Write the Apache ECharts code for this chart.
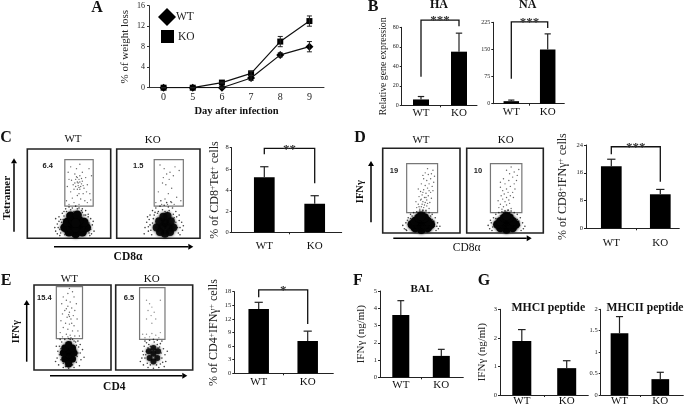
<!DOCTYPE html>
<html><head><meta charset="utf-8">
<style>html,body{margin:0;padding:0;background:#fff}#c{width:685px;height:407px}</style>
<script src="https://cdn.jsdelivr.net/npm/echarts@6/dist/echarts.min.js"></script>
</head><body><div id="c"></div>
<script>
// ---------- data ----------
const days = ['0','5','6','7','8','9'];
const wtLoss = [0,0,0,1.9,6.4,8];
const wtLossErr = [0,0,0.1,0.5,0.4,1];
const koLoss = [0,0,1,2.8,9,13];
const koLossErr = [0,0,0.1,0.4,1,1];
const groups = ['WT','KO'];
const haValues=[6,55], haTops=[9,74];
const naValues=[7,150], naTops=[10,193];
const cValues=[5.2,2.7], cTops=[6.2,3.46];
const dValues=[17.9,9.8], dTops=[19.9,11.2];
const eValues=[14.2,7.13], eTops=[15.66,9.3];
const fValues=[3.61,1.24], fTops=[4.44,1.62];
const g1Values=[1.89,0.94], g1Tops=[2.29,1.2];
const g2Values=[1.44,0.37], g2Tops=[1.83,0.53];
const haBracket=[0,29.3,87.4,1,81], naBracket=[0,69,226,1,209];
const cBracket=[0,7.37,7.94,1,4.63], dBracket=[0,21.3,23.5,1,13.4], eBracket=[0,16.8,18.4,1,10.9];
// flow plots (percent of the plot box)
const c1Core=[[58,5],[50,7],[66,7],[45,12],[71,12],[52,12],[64,12],[58,12],[48,18],[68,18],[55,20],[62,20],[52,25],[60,26],[58,17]];
const c1Gate=[[61,62],[58,66],[64,58],[55,60],[66,64],[60,55],[63,70],[52,52],[68,56],[57,72],[62,50],[70,68],[50,66],[66,74],[54,45],[72,60],[59,78],[48,58],[75,50],[64,44],[56,40],[69,42],[47,42],[74,78],[52,80],[63,83],[77,70],[49,74],[60,48],[67,50],[58,58],[62,66],[65,61],[56,55],[60,63],[63,55],[59,69],[53,65],[67,59],[71,52],[50,38],[62,38],[72,40],[76,43],[61,59],[63,63],[57,62],[60,68],[65,67],[62,57]];
const c1Ring=[[34,8],[36,16],[38,24],[40,6],[42,28],[44,30],[37,12],[46,33],[50,35],[54,34],[58,36],[62,34],[66,33],[70,31],[73,27],[76,22],[78,15],[80,8],[77,5],[34,22],[39,3],[75,12],[72,20],[43,21],[41,13],[74,6],[48,27],[68,26],[56,30],[62,29],[38,19],[79,19],[33,12],[60,33],[45,4],[71,15],[41,18],[47,30],[66,29],[74,17],[36,5],[39,10],[40,21],[44,25],[76,10],[75,3],[73,24],[70,26],[65,31],[52,32]];
const c2Core=[[58,5],[52,7],[64,7],[48,12],[68,12],[55,13],[62,13],[58,18],[51,19],[65,19],[56,24],[61,25]];
const c2Gate=[[60,72],[57,78],[63,66],[55,62],[68,70],[59,60],[70,80],[52,82],[66,56],[75,76],[62,50],[50,52],[72,46],[58,44],[66,40],[47,40],[54,38],[77,42],[61,38],[69,38],[64,74],[56,68]];
const c2Ring=[[38,8],[36,18],[40,26],[43,31],[47,34],[52,36],[57,37],[62,35],[67,34],[71,30],[75,26],[78,18],[79,9],[76,4],[34,12],[42,4],[37,24],[73,12],[45,26],[68,27],[55,32],[63,31],[40,15],[75,20],[50,30],[33,5],[80,14],[60,40],[53,42],[65,41],[44,22],[72,24],[49,28],[61,29],[38,13],[76,12],[41,9],[43,17],[74,6],[71,18],[46,29],[58,30],[69,23],[39,21]];
const d1Core=[[50,4],[42,6],[58,6],[38,10],[62,10],[46,10],[54,10],[50,14],[42,14],[58,14],[47,18],[54,18],[50,20]];
const d1Gate=[[52,26],[48,28],[56,27],[44,30],[60,29],[50,31],[54,33],[46,34],[58,35],[52,37],[49,39],[57,39],[61,36],[43,37],[54,42],[47,43],[59,44],[51,45],[63,41],[56,47],[49,49],[62,48],[53,51],[58,53],[46,52],[65,50],[55,56],[60,58],[50,58],[64,55],[57,62],[53,64],[62,64],[66,60],[59,69],[55,71],[63,70],[58,76],[65,74],[52,68],[67,67],[50,40],[55,36],[53,30],[47,31],[57,32],[51,34],[56,42],[52,48],[60,50]];
const d1Ring=[[28,5],[30,12],[33,18],[36,22],[40,24],[44,25],[48,26],[52,27],[56,26],[60,24],[64,22],[68,18],[71,12],[72,5],[26,9],[31,3],[69,3],[36,17],[64,16],[42,20],[58,21],[50,22],[74,8],[34,8],[67,8],[30,4],[32,15],[38,20],[62,20],[66,14],[70,8],[46,24],[54,24]];
const d2Core=[[52,4],[44,6],[60,6],[40,10],[64,10],[48,10],[56,10],[52,14],[44,14],[60,14],[49,18],[56,18],[52,20]];
const d2Gate=[[50,26],[46,28],[54,27],[42,30],[58,29],[48,31],[52,33],[44,34],[56,35],[50,37],[47,40],[55,39],[41,38],[52,42],[45,44],[57,44],[49,46],[61,42],[54,48],[47,50],[60,48],[52,52],[63,52],[44,54],[57,55],[50,58],[62,58],[65,62],[55,62],[48,64],[60,66],[66,68],[56,70],[62,72],[52,74],[58,78],[44,60],[68,75]];
const d2Ring=[[30,5],[32,12],[35,18],[38,22],[42,24],[46,25],[50,26],[54,27],[58,26],[62,24],[66,22],[70,18],[73,12],[74,5],[28,9],[33,3],[71,3],[38,17],[66,16],[44,20],[60,21],[52,22],[76,8],[31,15],[34,7],[69,9],[68,14],[48,24],[56,24]];
const e1Core=[[45,10],[40,13],[50,13],[45,18],[38,20],[52,20],[45,24],[40,26],[50,26],[45,30],[45,7]];
const e1Gate=[[46,96],[44,90],[50,92],[38,86],[52,86],[42,82],[47,80],[36,78],[55,78],[44,75],[49,73],[40,70],[53,70],[46,68],[37,66],[51,64],[43,62],[48,60],[35,58],[56,60],[41,55],[46,54],[52,52],[38,50],[44,48],[50,46],[34,44],[57,46],[42,42],[47,41],[53,40],[37,39],[44,39],[59,40],[48,38],[46,63],[45,65],[42,72],[49,55]];
const e1Ring=[[32,6],[30,14],[31,22],[33,28],[36,33],[40,36],[45,37],[50,36],[54,33],[58,27],[60,20],[61,12],[59,5],[57,34],[34,36],[63,24],[28,10],[38,3],[52,3],[45,2],[60,30],[29,28],[65,15],[55,9],[35,12],[38,8],[56,16],[36,20],[54,24],[42,32],[48,33],[33,18],[35,25],[57,20],[55,29],[41,4],[50,6],[38,27],[52,34],[47,36]];
const e2Core=[[49,10],[44,14],[54,14],[49,19],[43,22],[55,22],[49,26]];
const e2Gate=[[40,82],[44,78],[47,74],[42,70],[50,68],[46,64],[40,60],[52,60],[47,55],[58,82],[35,42],[40,42],[47,43],[52,41],[58,44],[44,39],[56,38],[38,38]];
const e2Ring=[[36,6],[34,14],[35,22],[37,28],[40,32],[44,35],[49,36],[54,35],[58,31],[62,25],[64,18],[65,10],[63,4],[60,34],[38,34],[67,22],[32,10],[42,3],[56,3],[49,2],[45,28],[55,26],[38,14],[60,14],[41,8],[58,7],[40,22],[59,20],[43,30],[54,30],[45,6],[53,6],[39,18],[61,9],[36,18],[57,27],[42,26],[50,33]];

// ---------- layout & helpers ----------
const serif='"Liberation Serif","Times New Roman",serif', sans='"Liberation Sans",Arial,sans-serif';
const grid=[],xAxis=[],yAxis=[],series=[],graphic=[];
const rich={s:{fontSize:7.5,verticalAlign:'top',lineHeight:8,padding:[0,0,5,0],fontFamily:serif,color:'#222'}};
function text(x,y,s,size,opt={}){
  graphic.push({type:'text',x,y,rotation:opt.rot?Math.PI/2:0,z:50,silent:true,
    style:{text:s,fontSize:size,fontFamily:opt.font||serif,fontWeight:opt.bold?'bold':'normal',fill:opt.color||'#111',align:'center',verticalAlign:'middle'}});
}
function arrow(x1,y1,x2,y2,w){
  const dx=Math.sign(x2-x1),dy=Math.sign(y2-y1),h=5,a=3;
  graphic.push({type:'line',shape:{x1,y1,x2:x2-dx*h,y2:y2-dy*h},style:{stroke:'#000',lineWidth:w||1.5},silent:true});
  graphic.push({type:'polygon',shape:{points:[[x2,y2],[x2-dx*h-dy*a,y2-dy*h-dx*a],[x2-dx*h+dy*a,y2-dy*h+dx*a]]},style:{fill:'#000'},silent:true});
}
function errSeries(i,data,cap,width,bothWays){
  series.push({type:'custom',xAxisIndex:i,yAxisIndex:i,z:6,clip:false,silent:true,data,
    encode:{x:0,y:[1,2]},
    renderItem(p,api){
      const a=api.coord([api.value(0),api.value(1)]),b=api.coord([api.value(0),api.value(2)]);
      const st={stroke:'#222',lineWidth:width,fill:null};
      const ch=[{type:'line',shape:{x1:a[0],y1:a[1],x2:b[0],y2:b[1]},style:st},
        {type:'line',shape:{x1:b[0]-cap,y1:b[1],x2:b[0]+cap,y2:b[1]},style:st}];
      if(bothWays)ch.push({type:'line',shape:{x1:a[0]-cap,y1:a[1],x2:a[0]+cap,y2:a[1]},style:st});
      return {type:'group',children:ch};
    }});
}
function barPanel(o){
  const i=grid.length, w=o.right-o.left, span=o.x1-o.x0;
  grid.push({left:o.left,top:o.top,width:w,height:o.bottom-o.top});
  xAxis.push({gridIndex:i,type:'value',min:-(o.x0-o.left)/span,max:(o.right-o.x0)/span,splitLine:{show:false},
    axisLine:{onZero:false,lineStyle:{color:'#222',width:1}},
    axisTick:{customValues:[0.5],length:2,lineStyle:{color:'#222'}},
    axisLabel:{customValues:[0,1],formatter:v=>groups[Math.round(v)],margin:o.margin,fontFamily:serif,fontSize:o.xSize||11,color:'#111'}});
  yAxis.push({gridIndex:i,type:'value',min:o.min,max:o.max,interval:o.step,splitLine:{show:false},
    axisLine:{show:true,onZero:false,lineStyle:{color:'#222',width:1}},axisTick:{show:true,length:2,lineStyle:{color:'#222'}},
    axisLabel:{fontFamily:serif,fontSize:o.ySize||6.5,color:'#222',margin:3,formatter:o.fmt},
    name:o.name,nameLocation:'middle',nameGap:o.gap,nameRotate:90,
    nameTextStyle:{fontFamily:serif,fontSize:o.nameSize||12,color:'#222',rich}});
  series.push({type:'bar',xAxisIndex:i,yAxisIndex:i,barWidth:o.barW,z:4,silent:true,itemStyle:{color:'#000'},
    data:o.values.map((v,k)=>[k,v])});
  errSeries(i,o.values.map((v,k)=>[k,v,o.tops[k]]),o.barW*0.2,1.2);
  if(o.bracket){
    series.push({type:'custom',xAxisIndex:i,yAxisIndex:i,z:7,clip:false,silent:true,data:[o.bracket],
      encode:{x:[0,3],y:[1,2,4]},
      renderItem(p,api){
        const pts=[[api.value(0),api.value(1)],[api.value(0),api.value(2)],[api.value(3),api.value(2)],[api.value(3),api.value(4)]].map(q=>api.coord(q));
        return {type:'group',children:[
          {type:'polyline',shape:{points:pts},style:{stroke:'#111',lineWidth:1.3,fill:null}},
          {type:'text',style:{text:o.stars,x:(pts[1][0]+pts[2][0])/2+(o.starDx||0),y:pts[1][1]+1,fontSize:13,fontFamily:serif,fontWeight:'bold',fill:'#333',textAlign:'center',textVerticalAlign:'middle'}}
        ]};
      }});
  }
}
function flowPanel(o){
  const i=grid.length;
  grid.push({left:o.left,top:o.top,width:o.w,height:o.h,show:true,borderColor:'#222',borderWidth:1.6,backgroundColor:'#fff'});
  xAxis.push({gridIndex:i,type:'value',min:0,max:100,show:false});
  yAxis.push({gridIndex:i,type:'value',min:0,max:100,show:false});
  series.push({type:'scatter',xAxisIndex:i,yAxisIndex:i,silent:true,z:3,symbolSize:1.4,itemStyle:{color:'#333',opacity:o.gateOpacity||0.75},data:o.gate,
    markArea:{silent:true,z:2,itemStyle:{color:'rgba(0,0,0,0)',borderColor:'#777',borderWidth:1.2},
      data:[[{coord:[o.box[0],o.box[1]]},{coord:[o.box[2],o.box[3]]}]]}});
  series.push({type:'scatter',xAxisIndex:i,yAxisIndex:i,silent:true,z:4,symbolSize:1.6,itemStyle:{color:'#111'},data:o.ring});
  series.push({type:'scatter',xAxisIndex:i,yAxisIndex:i,silent:true,z:5,symbolSize:o.coreSize,itemStyle:{color:'#050505',opacity:o.coreOpacity||1,shadowBlur:3,shadowColor:'rgba(0,0,0,0.8)'},data:o.core});
}

// ---------- panel A ----------
grid.push({left:149,top:5.7,width:175,height:82});
xAxis.push({gridIndex:0,type:'category',data:days,axisLine:{lineStyle:{color:'#333',width:1}},axisTick:{length:2,lineStyle:{color:'#333'}},
  axisLabel:{fontFamily:serif,fontSize:10,color:'#222',margin:5},
  name:'Day after infection',nameLocation:'middle',nameGap:18,nameTextStyle:{fontFamily:serif,fontSize:10.5,fontWeight:'bold',color:'#111'}});
yAxis.push({gridIndex:0,type:'value',min:0,max:16,interval:4,splitLine:{show:false},
  axisLine:{show:true,lineStyle:{color:'#333',width:1}},axisTick:{show:true,length:2,lineStyle:{color:'#333'}},
  axisLabel:{fontFamily:serif,fontSize:8,color:'#222',margin:4},
  name:'% of weight loss',nameLocation:'middle',nameGap:18,nameRotate:90,nameTextStyle:{fontFamily:serif,fontSize:11,color:'#222'}});
series.push({name:'WT',type:'line',xAxisIndex:0,yAxisIndex:0,data:wtLoss,symbol:'diamond',symbolSize:8,lineStyle:{color:'#111',width:1.2},itemStyle:{color:'#000'},silent:true,z:5});
series.push({name:'KO',type:'line',xAxisIndex:0,yAxisIndex:0,data:koLoss,symbol:'rect',symbolSize:6,lineStyle:{color:'#111',width:1.2},itemStyle:{color:'#000'},silent:true,z:5});
errSeries(0,wtLoss.map((v,k)=>[k,v-wtLossErr[k],v+wtLossErr[k]]),2.5,1,true);
errSeries(0,koLoss.map((v,k)=>[k,v-koLossErr[k],v+koLossErr[k]]),2.5,1,true);

// ---------- bar panels ----------
barPanel({left:401.7,right:477,top:27.3,bottom:105.3,x0:421,x1:459,barW:16,min:0,max:80,step:20,values:haValues,tops:haTops,bracket:haBracket,stars:'***',margin:2,ySize:6,
  name:'Relative gene expression',nameSize:9.8,gap:2});
barPanel({left:493.3,right:564.3,top:22.3,bottom:103.7,x0:511.3,x1:547.7,barW:15.5,min:0,max:225,step:75,values:naValues,tops:naTops,bracket:naBracket,stars:'***',margin:3,ySize:6});
barPanel({left:231.7,right:341.7,top:147.7,bottom:232.3,x0:264.3,x1:314.7,barW:20.7,min:0,max:8,step:2,values:cValues,tops:cTops,bracket:cBracket,stars:'**',margin:8,
  name:'% of CD8{s|+}Tet{s|+} cells',gap:-4});
barPanel({left:586,right:679.3,top:145,bottom:228.3,x0:611.3,x1:660.3,barW:20.7,min:0,max:24,step:8,values:dValues,tops:dTops,bracket:dBracket,stars:'***',margin:9,
  name:'% of CD8{s|+}IFN\u03b3{s|+} cells',gap:17});
barPanel({left:234.3,right:333.3,top:291.7,bottom:373.3,x0:258.7,x1:307.7,barW:20.5,min:0,max:18,step:3,values:eValues,tops:eTops,bracket:eBracket,stars:'*',margin:3,
  name:'% of CD4{s|+}IFN\u03b3{s|+} cells',gap:12});
barPanel({left:380,right:463.3,top:291,bottom:377.3,x0:400.8,x1:441.3,barW:17,min:0,max:5,step:1,values:fValues,tops:fTops,margin:2,
  name:'IFN\u03b3 (ng/ml)',nameSize:11,gap:13});
barPanel({left:500,right:588.3,top:309.3,bottom:396.7,x0:521.8,x1:566.7,barW:19,min:0,max:3,step:1,values:g1Values,tops:g1Tops,margin:1,
  name:'IFN\u03b3 (ng/ml)',nameSize:11,gap:12});
barPanel({left:600.7,right:683.3,top:309.3,bottom:395,x0:619.5,x1:660.3,barW:17.7,min:0,max:2,step:0.5,values:g2Values,tops:g2Tops,margin:1});

// ---------- flow panels ----------
flowPanel({left:27.3,top:149,w:83.4,h:89.3,box:[45,36,79,88],core:c1Core,coreSize:9,gate:c1Gate,ring:c1Ring});
flowPanel({left:116.7,top:149,w:83.3,h:89.3,box:[45,36,80,88],core:c2Core,coreSize:8,coreOpacity:0.9,gate:c2Gate,ring:c2Ring});
flowPanel({left:382.7,top:148.3,w:77.3,h:84.7,box:[31,24,71,82],core:d1Core,coreSize:9,gate:d1Gate,ring:d1Ring});
flowPanel({left:466.7,top:148.3,w:76.6,h:84.7,box:[31,24,72,82],core:d2Core,coreSize:8.5,gate:d2Gate,ring:d2Ring});
flowPanel({left:34,top:285,w:77,h:85,box:[29,37,63,98],core:e1Core,coreSize:7,gate:e1Gate,ring:e1Ring});
flowPanel({left:115.7,top:285,w:77,h:85,box:[31,36,64,97],core:e2Core,coreSize:6,coreOpacity:0.85,gate:e2Gate,ring:e2Ring,gateOpacity:0.55});

// ---------- text and decorations ----------
[['A',97,8],['B',373,7],['C',6,138],['D',360,138],['E',6,281],['F',358,281],['G',484,281]].forEach(a=>text(a[1],a[2],a[0],16,{bold:true}));
text(439,4.5,'HA',12,{bold:true}); text(527.7,4.5,'NA',12,{bold:true});
text(421.7,289.5,'BAL',11,{bold:true}); text(548.3,307.7,'MHCI peptide',11.8,{bold:true}); text(645,307.7,'MHCII peptide',11.6,{bold:true});
[[73,139,'WT'],[152.7,140.5,'KO'],[421,140,'WT'],[505.7,140,'KO'],[69.3,279,'WT'],[151.7,279,'KO']].forEach(a=>text(a[0],a[1],a[2],11));
[[47.7,165.7,'6.4'],[138.3,165.7,'1.5'],[394,171,'19'],[478,171,'10'],[44.3,298.3,'15.4'],[129,298.3,'6.5']].forEach(a=>text(a[0],a[1],a[2],7.5,{bold:true,font:sans,color:'#222'}));
text(6.7,198,'Tetramer',11,{rot:true,bold:true}); text(128,257,'CD8\u03b1',11.5,{bold:true});
text(360,191.7,'IFN\u03b3',10.5,{rot:true,bold:true}); text(466.7,247.7,'CD8\u03b1',11.5);
text(16.7,331.7,'IFN\u03b3',10.5,{rot:true,bold:true}); text(114.3,386.7,'CD4',11.5,{bold:true});
arrow(14,231.7,14,158.3); arrow(54,246.7,193.3,246.7);
arrow(371,222.3,371,161); arrow(393.3,238.3,531.7,238.3);
arrow(26.7,361.7,26.7,300); arrow(50,375.7,187.3,375.7);

echarts.init(document.getElementById('c'),null,{renderer:'canvas'}).setOption({
  backgroundColor:'#fff',animation:false,tooltip:{show:false},
  legend:[
    {data:[{name:'WT',icon:'diamond'}],left:158,top:8,itemWidth:18,itemHeight:18,itemGap:0,selectedMode:false,padding:0,textStyle:{fontFamily:serif,fontSize:11.5,color:'#222',padding:[0,0,0,-5]}},
    {data:[{name:'KO',icon:'rect'}],left:161,top:30,itemWidth:13,itemHeight:13,selectedMode:false,padding:0,textStyle:{fontFamily:serif,fontSize:11.5,color:'#222',padding:[0,0,0,-1]}}
  ],
  grid,xAxis,yAxis,series,graphic
});
</script></body></html>
